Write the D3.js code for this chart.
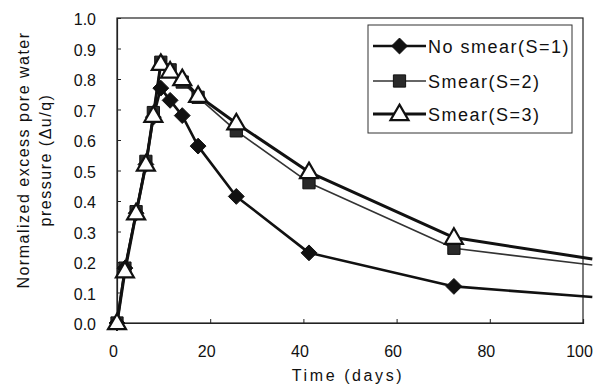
<!DOCTYPE html>
<html>
<head>
<meta charset="utf-8">
<script src="https://cdn.jsdelivr.net/npm/d3@7"></script>
<style>
  html, body { margin: 0; padding: 0; background: #fff; }
  svg { display: block; }
  text { font-family: "Liberation Sans", Arial, sans-serif; fill: #111; }
</style>
</head>
<body>
<svg id="chart" width="603" height="385"></svg>
<script>
// Elapsed time (days) at each computed point
const days = [0, 1.7, 4.1, 6.2, 7.8, 9.4, 11.4, 14, 17.4, 25.6, 41.2, 72.3];
// Extension of the curves past the right edge (no marker drawn there)
const tailDay = 102;

// Normalized excess pore water pressure Δu/q
const noSmear = [0, 0.18, 0.36, 0.52, 0.675, 0.77, 0.73, 0.68, 0.58, 0.415, 0.23, 0.12];
const noSmearTail = 0.085;
const smear2 = [0, 0.18, 0.365, 0.53, 0.69, 0.855, 0.83, 0.79, 0.74, 0.63, 0.46, 0.245];
const smear2Tail = 0.19;
const smear3 = [0, 0.17, 0.36, 0.52, 0.68, 0.85, 0.825, 0.80, 0.745, 0.655, 0.495, 0.28];
const smear3Tail = 0.21;

const seriesNames = ["No smear(S=1)", "Smear(S=2)", "Smear(S=3)"];
const xTicks = [0, 20, 40, 60, 80, 100];
const yTicks = [0, 0.1, 0.2, 0.3, 0.4, 0.5, 0.6, 0.7, 0.8, 0.9, 1.0];

const svg = d3.select("#chart");
const m = { left: 117, right: 583, top: 18, bottom: 323 };

const x = d3.scaleLinear().domain([0, 100]).range([m.left, m.right]);
const y = d3.scaleLinear().domain([0, 1]).range([m.bottom, m.top]);

// Plot frame
svg.append("rect")
  .attr("x", m.left).attr("y", m.top)
  .attr("width", m.right - m.left).attr("height", m.bottom - m.top)
  .attr("fill", "none").attr("stroke", "#222").attr("stroke-width", 1.2);

// Axes with short inward ticks
const xAxis = svg.append("g").attr("transform", `translate(0,${m.bottom})`)
  .call(d3.axisBottom(x).tickValues(xTicks).tickSize(-4).tickPadding(22.5).tickFormat(d3.format("d")));
const yAxis = svg.append("g").attr("transform", `translate(${m.left},0)`)
  .call(d3.axisLeft(y).tickValues(yTicks).tickSize(-4).tickPadding(21).tickFormat(d3.format(".1f")));
[xAxis, yAxis].forEach(g => {
  g.select(".domain").attr("stroke", "#222").attr("stroke-width", 1.2);
  g.selectAll(".tick line").attr("stroke", "#222");
  g.selectAll(".tick text").attr("font-size", 16).attr("fill", "#111")
    .style("font-family", "'Liberation Sans', Arial, sans-serif");
});
xAxis.selectAll(".tick text").attr("dx", -4);
yAxis.selectAll(".tick text").attr("dy", "0.42em");

// Axis titles
svg.append("text").attr("x", 348).attr("y", 381).attr("text-anchor", "middle")
  .attr("font-size", 16).attr("letter-spacing", 2.6).text("Time (days)");
const yt = svg.append("g").attr("transform", "translate(0,160) rotate(-90)");
yt.append("text").attr("x", 0).attr("y", 29).attr("text-anchor", "middle")
  .attr("font-size", 16).attr("letter-spacing", 1.5).text("Normalized excess pore water");
yt.append("text").attr("x", 0).attr("y", 51).attr("text-anchor", "middle")
  .attr("font-size", 16).attr("letter-spacing", 1.5).text("pressure (Δu/q)");

svg.append("clipPath").attr("id", "area")
  .append("rect").attr("x", 0).attr("y", 0).attr("width", 594).attr("height", 385);

const line = d3.line().x(d => x(d[0])).y(d => y(d[1]));
const pts = vals => days.map((d, i) => [d, vals[i]]);

const series = [
  { vals: smear2, tail: smear2Tail, width: 1.6, color: "#333", marker: "square" },
  { vals: noSmear, tail: noSmearTail, width: 2.6, color: "#111", marker: "diamond" },
  { vals: smear3, tail: smear3Tail, width: 3.0, color: "#111", marker: "triangle" }
];

function drawMarker(g, type, cx, cy) {
  if (type === "diamond") {
    g.append("path").attr("d", d3.symbol(d3.symbolDiamond2, 160)())
      .attr("transform", `translate(${cx},${cy})`)
      .attr("fill", "#111").attr("stroke", "#111").attr("stroke-width", 1);
  } else if (type === "square") {
    g.append("path").attr("d", d3.symbol(d3.symbolSquare, 150)())
      .attr("transform", `translate(${cx},${cy})`)
      .attr("fill", "#2a2a2a").attr("stroke", "#111").attr("stroke-width", 1);
  } else {
    g.append("path").attr("d", d3.symbol(d3.symbolTriangle, 140)())
      .attr("transform", `translate(${cx},${cy + 1})`)
      .attr("fill", "#fff").attr("stroke", "#111").attr("stroke-width", 2.2);
  }
}

const plot = svg.append("g").attr("clip-path", "url(#area)");
series.forEach(s => {
  const p = pts(s.vals).concat([[tailDay, s.tail]]);
  plot.append("path").datum(p).attr("d", line)
    .attr("fill", "none").attr("stroke", s.color)
    .attr("stroke-width", s.width).attr("stroke-linejoin", "round");
});
series.forEach(s => {
  const g = plot.append("g");
  pts(s.vals).forEach(d => drawMarker(g, s.marker, x(d[0]), y(d[1])));
});

// Legend
const lg = svg.append("g");
lg.append("rect").attr("x", 368).attr("y", 25).attr("width", 204).attr("height", 108)
  .attr("fill", "#fff").attr("stroke", "#333").attr("stroke-width", 1);
const legendItems = [
  { name: seriesNames[0], marker: "diamond", width: 2.6, color: "#111", yy: 46 },
  { name: seriesNames[1], marker: "square", width: 1.6, color: "#333", yy: 81 },
  { name: seriesNames[2], marker: "triangle", width: 3.0, color: "#111", yy: 114 }
];
legendItems.forEach(it => {
  lg.append("line").attr("x1", 373).attr("x2", 426).attr("y1", it.yy).attr("y2", it.yy)
    .attr("stroke", it.color).attr("stroke-width", it.width);
  drawMarker(lg, it.marker, 399.5, it.yy);
  lg.append("text").attr("x", 428).attr("y", it.yy + 6.5)
    .attr("font-size", 18).attr("letter-spacing", 1.5).text(it.name);
});
</script>
</body>
</html>
